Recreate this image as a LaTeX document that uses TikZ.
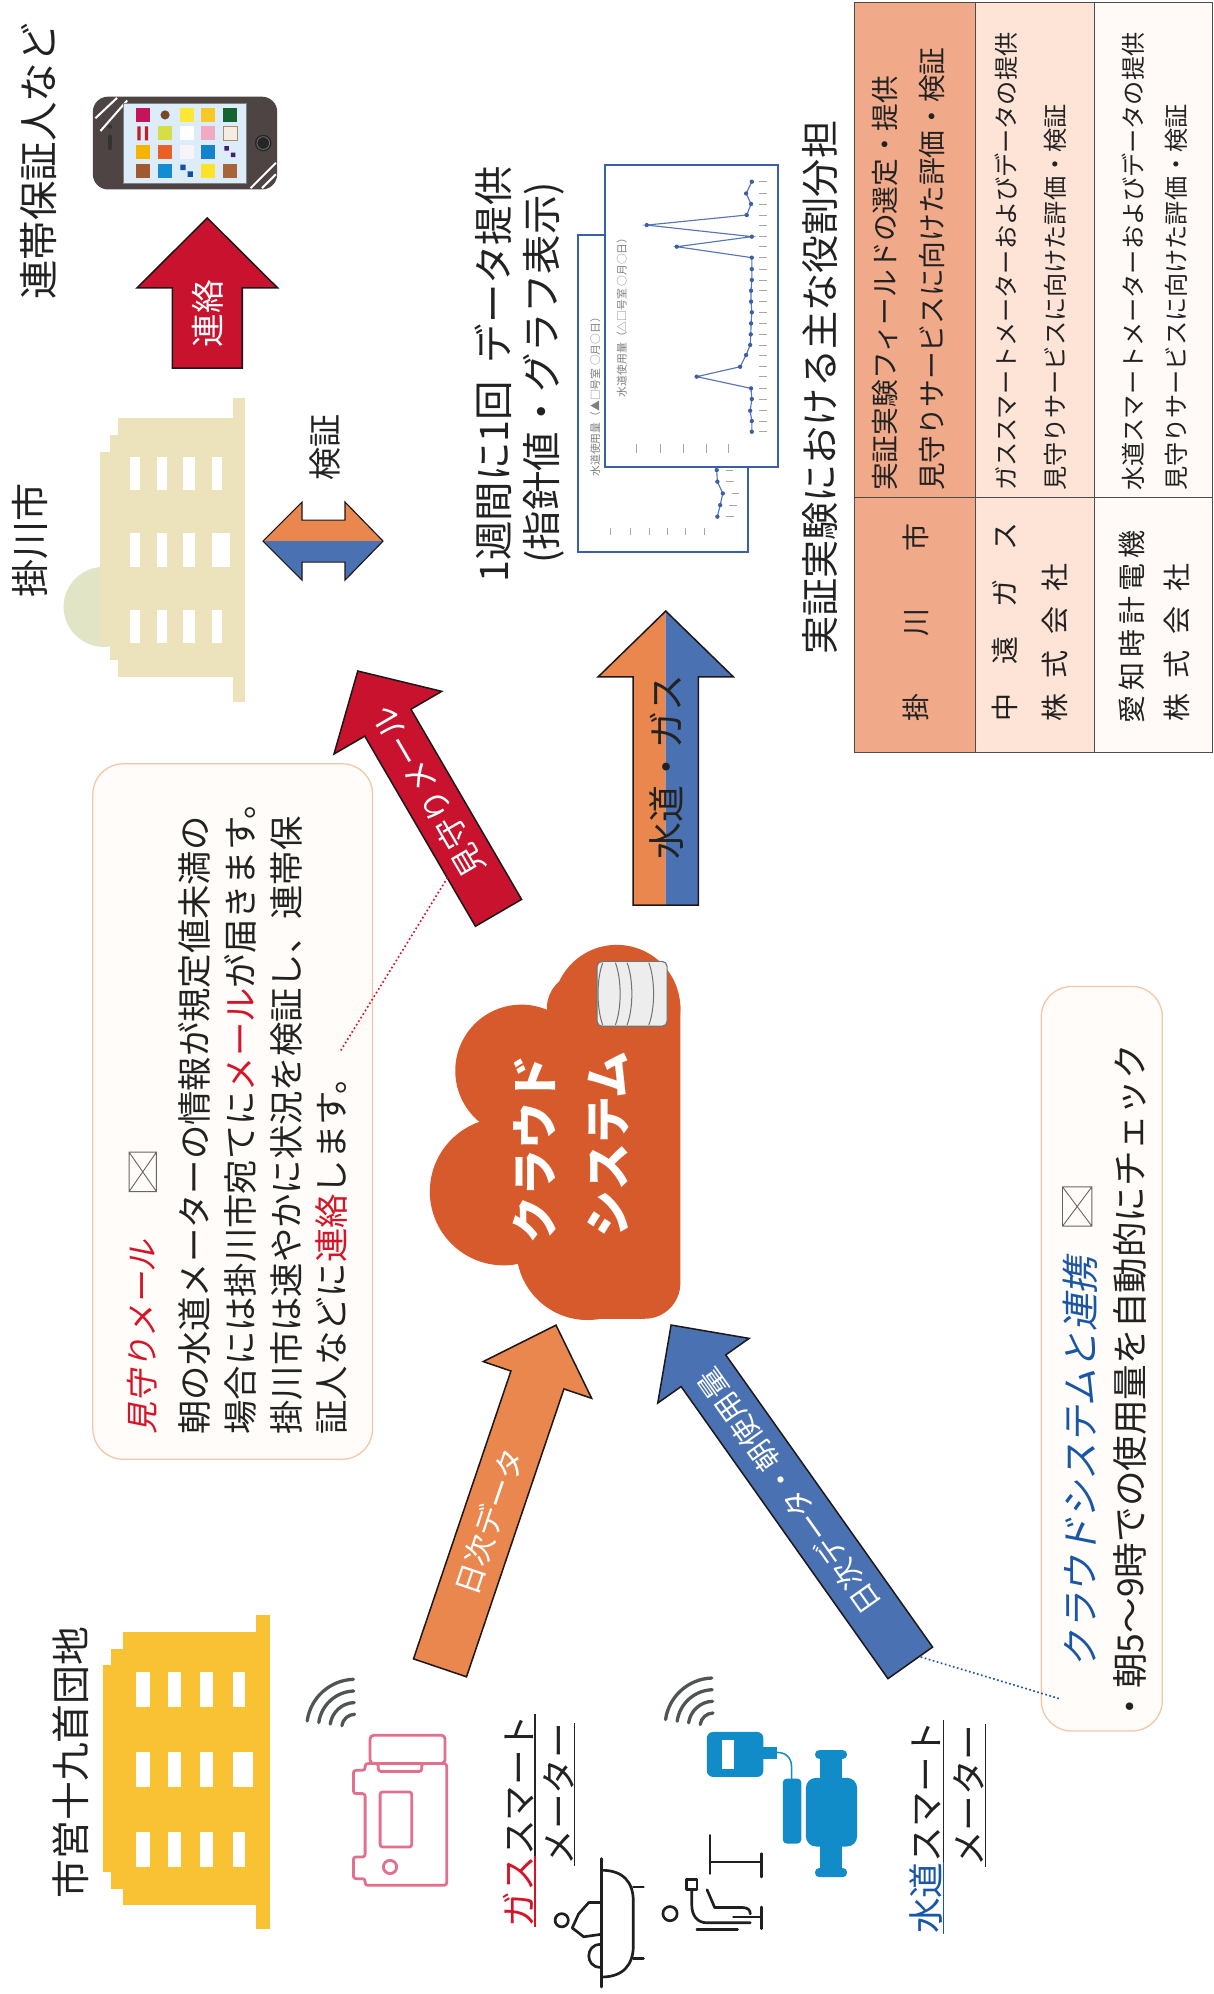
\documentclass[tikz,border=0pt]{standalone}
\usepackage{fontspec}
\setmainfont{Noto Sans CJK JP}
\newfontfamily\jpslant{Noto Sans CJK JP}[FakeSlant=0.2]
\usetikzlibrary{calc}

\definecolor{arrred}{RGB}{200,18,46}
\definecolor{arrorange}{RGB}{233,135,78}
\definecolor{arrblue}{RGB}{74,114,178}
\definecolor{cloudred}{RGB}{214,90,44}
\definecolor{beige}{RGB}{236,226,188}
\definecolor{domebeige}{RGB}{226,228,198}
\definecolor{bldyellow}{RGB}{249,193,52}
\definecolor{tabA}{RGB}{240,170,138}
\definecolor{tabB}{RGB}{253,228,214}
\definecolor{tabC}{RGB}{255,250,247}
\definecolor{boxline}{RGB}{242,198,168}
\definecolor{boxfill}{RGB}{255,252,249}
\definecolor{chartblue}{RGB}{58,94,168}
\definecolor{gaspink}{RGB}{226,112,140}
\definecolor{waterblue}{RGB}{18,140,200}
\definecolor{txtblue}{RGB}{26,86,166}
\definecolor{txtred}{RGB}{214,20,40}
\definecolor{wifigray}{RGB}{80,84,84}
\definecolor{phonebody}{RGB}{78,68,68}
\definecolor{screenblue}{RGB}{220,236,248}
\definecolor{inkblack}{RGB}{34,34,34}
\definecolor{appA}{RGB}{196,20,90}
\definecolor{appB}{RGB}{120,72,40}
\definecolor{appC}{RGB}{252,232,50}
\definecolor{appD}{RGB}{248,200,40}
\definecolor{appE}{RGB}{20,100,50}
\definecolor{appF}{RGB}{190,30,40}
\definecolor{appG}{RGB}{214,222,70}
\definecolor{appH}{RGB}{240,170,195}
\definecolor{appI}{RGB}{244,238,226}
\definecolor{appJ}{RGB}{170,140,110}
\definecolor{appK}{RGB}{246,180,0}
\definecolor{appL}{RGB}{232,96,40}
\definecolor{appM}{RGB}{246,244,250}
\definecolor{appN}{RGB}{20,130,205}
\definecolor{appO}{RGB}{70,30,110}
\definecolor{appP}{RGB}{160,90,50}
\definecolor{appQ}{RGB}{20,140,210}
\definecolor{appR}{RGB}{20,80,160}
\definecolor{appS}{RGB}{252,226,40}
\definecolor{appT}{RGB}{165,100,60}
\definecolor{arrowink}{RGB}{30,24,24}

\tikzset{
  fs/.style={font=\fontsize{#1}{#1}\selectfont},
  vt/.style={rotate=90, inner sep=0pt, outer sep=0pt, text=inkblack},
  rt/.style={rotate=#1, inner sep=0pt, outer sep=0pt},
  arrowline/.style={draw=arrowink, line width=1.2pt, line join=miter},
  callout/.style={draw=boxline, fill=boxfill, line width=1pt, rounded corners=24pt},
  tabline/.style={draw=black!70, line width=0.8pt},
  chartbox/.style={draw=chartblue, fill=white, line width=1.6pt},
  pict/.style={draw=black!88, line width=2.1pt, line cap=round, line join=round},
  gasline/.style={draw=gaspink, line width=2.2pt, line join=round},
  wifi/.style={draw=wifigray, line width=2.6pt, line cap=round},
  tick/.style={draw=black!35, line width=0.6pt},
  envelope/.style={draw=black!60, line width=0.7pt},
}

% block arrow: tail x, tail y, angle, length, shaft half width, head half width, head length, style
\newcommand\drawblockarrow[8]{%
  \begin{scope}[shift={(#1,#2)},rotate=#3]
    \path[#8] (0,-#5) -- ({#4-#7},-#5) -- ({#4-#7},-#6) -- (#4,0) --
      ({#4-#7},#6) -- ({#4-#7},#5) -- (0,#5) -- cycle;
  \end{scope}}

\begin{document}
\begin{tikzpicture}[x=1pt,y=-1pt]
\useasboundingbox (0,0) rectangle (954,1568);
\fill[white] (0,0) rectangle (954,1568);

% ---------------- role table ----------------
\fill[tabA] (672,2) rectangle (766.8,592);
\fill[tabB] (766.8,2) rectangle (861,592);
\fill[tabC] (861,2) rectangle (953.5,592);
\draw[tabline] (672,2) rectangle (953.5,592);
\draw[tabline] (766.8,2) -- (766.8,592) (861,2) -- (861,592) (672,391) -- (953.5,391);

\node[vt, fs=30] (tabTitle) at (644.7,305) {実証実験における主な役割分担};

\node[vt, fs=21.8, anchor=west] (roleA1) at (695.8,386) {実証実験フィールドの選定・提供};
\node[vt, fs=21.8, anchor=west] (roleA2) at (732.5,386) {見守りサービスに向けた評価・検証};
\node[vt, fs=19, anchor=west] (roleB1) at (791.5,386) {ガススマートメーターおよびデータの提供};
\node[vt, fs=19, anchor=west] (roleB2) at (829.5,386) {見守りサービスに向けた評価・検証};
\node[vt, fs=19, anchor=west] (roleC1) at (891.1,386) {水道スマートメーターおよびデータの提供};
\node[vt, fs=19, anchor=west] (roleC2) at (925.2,386) {見守りサービスに向けた評価・検証};

\node[vt, fs=22, anchor=west] (orgA) at (720.6,567.3) {掛\hspace{45pt}川\hspace{45pt}市};
\node[vt, fs=22, anchor=west] (orgB1) at (789.9,567.3) {中\hspace{22.8pt}遠\hspace{22.8pt}ガ\hspace{22.8pt}ス};
\node[vt, fs=22, anchor=west] (orgB2) at (829.5,567.3) {株\hspace{12pt}式\hspace{12pt}会\hspace{12pt}社};
\node[vt, fs=22, anchor=west] (orgC1) at (889.8,569) {愛\hspace{4pt}知\hspace{4pt}時\hspace{4pt}計\hspace{4pt}電\hspace{4pt}機};
\node[vt, fs=22, anchor=west] (orgC2) at (925.2,567.3) {株\hspace{12pt}式\hspace{12pt}会\hspace{12pt}社};

% ---------------- weekly graph ----------------
\node[vt, fs=31, anchor=west] (weekA) at (388,458) {1週間に1回\hspace{0.45em}データ提供};
\node[vt, fs=31, anchor=west] (weekB) at (427.5,443) {(指針値・グラフ表示)};

\draw[chartbox] (454.6,184.8) rectangle (588.3,434);
\node[vt, fs=8.5, text=black!50] (chartTitleB) at (468,310) {水道使用量（▲□号室\ ○月○日）};
\foreach \tx in {479.7,495.9,510.3,524.7,539.1,553.5} \draw[tick] (\tx,415) -- (\tx,421);
\draw[chartblue!85, line width=0.9pt] plot coordinates {(563.6,369.6) (564.1,378.8) (568.4,388) (566.3,397.2) (564.1,406.3)};
\foreach \px/\py in {563.6/369.6,564.1/378.8,568.4/388,566.3/397.2,564.1/406.3} {
  \fill[chartblue] (\px,\py) circle (1.7);
  \draw[tick] (\px+7,\py) -- (\px+13,\py);
}

\draw[chartbox] (475.8,129.8) rectangle (611.9,367.3);
\node[vt, fs=8.5, text=black!50] (chartTitleA) at (489,247.5) {水道使用量（△□号室\ ○月○日）};
\foreach \tx in {500.7,518.9,537.4,555.8,572.8} \draw[tick] (\tx,349) -- (\tx,356);
\draw[chartblue!85, line width=0.9pt] plot coordinates {(591.2,142.9) (586.7,152.1) (590.6,160.4) (587.2,169.1) (508.6,177) (591.2,186.1) (532.2,194) (591.2,202.6) (591.2,211.6) (591.2,220.2) (590.6,228.6) (590.6,237.2) (591.2,245.6) (590.6,254.3) (590.4,262.9) (589.9,271.3) (586.7,279.2) (582,288.4) (547.9,296.2) (590.6,305.4) (591.2,313.8) (589.9,323) (591.2,331.1) (591.2,339.5)};
\foreach \px/\py in {591.2/142.9,586.7/152.1,590.6/160.4,587.2/169.1,508.6/177,591.2/186.1,532.2/194,591.2/202.6,591.2/211.6,591.2/220.2,590.6/228.6,590.6/237.2,591.2/245.6,590.6/254.3,590.4/262.9,589.9/271.3,586.7/279.2,582/288.4,547.9/296.2,590.6/305.4,591.2/313.8,589.9/323,591.2/331.1,591.2/339.5}
  \fill[chartblue] (\px,\py) circle (1.7);
\foreach \py in {142.9,152.1,160.4,169.1,177,186.1,194,202.6,211.6,220.2,228.6,237.2,245.6,254.3,262.9,271.3,279.2,288.4,296.2,305.4,313.8,323,331.1,339.5}
  \draw[tick] (597,\py) -- (603,\py);

% ---------------- guarantor phone ----------------
\node[vt, fs=31] (guarantor) at (30,127) {連帯保証人など};
\fill[phonebody, rounded corners=12pt] (73,76) rectangle (218,149);
\draw[white, line width=1.6pt] (75,93) -- (92,77) (79,103) -- (100,79);
\draw[white, line width=1.6pt] (197,148) -- (217,128) (206,148) -- (217,137);
\filldraw[fill=screenblue, draw=black!50, line width=0.6pt] (97,81) rectangle (194,144);
\fill[black!85] (207,112.5) circle (6.5);
\draw[black!55, line width=0.6pt] (207,112.5) circle (5);
\fill[black!80] (86.5,99.6) circle (1.6);
\fill[black!80, rounded corners=1pt] (85,106) rectangle (88,118);
% app tiles
\fill[appA] (107.2,84.9) rectangle (118.2,95.9);
\fill[appB] (129.8,90.4) circle (3.6);
\fill[appC] (141.3,84.9) rectangle (152.3,95.9);
\fill[appD] (158.3,84.9) rectangle (169.3,95.9);
\fill[appE] (175.4,84.9) rectangle (186.4,95.9);
\fill[appF] (108,99.4) rectangle (110.5,110.4) (114,99.4) rectangle (116.5,110.4);
\fill[appG] (124.3,99.4) rectangle (135.3,110.4);
\fill[white] (141.3,99.4) rectangle (152.3,110.4);
\fill[appH] (158.3,99.4) rectangle (169.3,110.4);
\filldraw[fill=appI, draw=appJ, line width=0.5pt] (175.4,99.4) rectangle (186.4,110.4);
\fill[appK] (107.2,113.8) rectangle (118.2,124.8);
\fill[appL] (124.3,113.8) rectangle (135.3,124.8);
\fill[appM] (141.3,113.8) rectangle (152.3,124.8);
\fill[appN] (158.3,113.8) rectangle (169.3,124.8);
\fill[appO] (176.5,115) rectangle (180,118.5) (181.5,120) rectangle (185,123.5);
\fill[appP] (107.2,128.7) rectangle (118.2,139.7);
\fill[appQ] (124.3,128.7) rectangle (135.3,139.7);
\fill[appR] (141.8,129.5) rectangle (146,133.7) (147.5,134.8) rectangle (151.7,139);
\fill[appS] (158.3,128.7) rectangle (169.3,139.7);
\fill[appT] (175.4,128.7) rectangle (186.4,139.7);

% contact arrow
\drawblockarrow{163}{289.4}{90}{118}{27.5}{55.3}{55}{fill=arrred, arrowline}
\node[rt=90, fs=26.5, text=white] (lblContact) at (163,246.6) {連絡};

% ---------------- city hall ----------------
\node[vt, fs=30] (cityLabel) at (23.6,424.7) {掛川市};
\fill[domebeige] (82,477.2) ellipse (32 and 31.5);
\fill[beige] (92.8,328.7) rectangle (183.3,532.4);
\fill[beige] (86.5,342) rectangle (92.8,519);
\fill[beige] (78.6,355.5) rectangle (86.5,505.7);
\fill[beige] (183.3,313) rectangle (192.7,552);
\foreach \ya/\yb in {359.4/385.4,419.2/446,479.7/505.7}
  \foreach \xa/\xb in {102/110,123.5/131.3,144/153.4,166.7/174.6}
    \fill[white] (\xa,\ya) rectangle (\xb,\yb);
\fill[white] (166.7,419.2) rectangle (181,446);

% verification double arrow
\fill[arrorange] (206.8,425.5) -- (237.5,394.8) -- (237.5,409) -- (271.3,409) -- (271.3,394.8) -- (301.2,425.5) -- cycle;
\fill[arrblue] (206.8,425.5) -- (237.5,456.2) -- (237.5,442) -- (271.3,442) -- (271.3,456.2) -- (301.2,425.5) -- cycle;
\draw[arrowline, line width=0.9pt] (206.8,425.5) -- (237.5,394.8) -- (237.5,409) -- (271.3,409) -- (271.3,394.8) -- (301.2,425.5) -- (271.3,456.2) -- (271.3,442) -- (237.5,442) -- (237.5,456.2) -- cycle;
\node[vt, fs=26] (lblVerify) at (255.6,351.6) {検証};

% ---------------- watch mail callout ----------------
\draw[callout] (73,600.6) rectangle (293,1147.5);
\node[vt, fs=25.5, anchor=west, text=txtred] (mmTitle) at (112,1128) {\jpslant 見守りメール};
\draw[envelope] (101.5,906) rectangle (123,937) (101.5,906) -- (123,937) (101.5,937) -- (123,906);
\node[vt, fs=27, anchor=west] (mmLine1) at (153,1128) {朝の水道メーターの情報が規定値未満の};
\node[vt, fs=27, anchor=west] (mmLine2) at (189,1128) {場合には掛川市宛てに\textcolor{txtred}{メール}が届きます。};
\node[vt, fs=27, anchor=west] (mmLine3) at (225,1128) {掛川市は速やかに状況を検証し、連帯保};
\node[vt, fs=27, anchor=west] (mmLine4) at (261,1128) {証人などに\textcolor{txtred}{連絡}します。};

% watch mail arrow
\drawblockarrow{392}{717.8}{120.2}{220}{21}{49}{47}{fill=arrred, arrowline}
\node[rt=120.2, fs=25, text=white] (lblWatch) at (336.8,622.7) {見守りメール};
\coordinate (mmDotA) at (268,826);
\coordinate (mmDotB) at (352,690);
\draw[txtred, dotted, line width=1.3pt] (mmDotA) -- (mmDotB);

% water / gas data arrow
\begin{scope}[shift={(523.5,711.8)},rotate=90]
  \fill[arrorange] (0,0) -- (0,-25.6) -- (179.6,-25.6) -- (179.6,-53.1) -- (231.3,0) -- cycle;
  \fill[arrblue] (0,0) -- (0,25.6) -- (179.6,25.6) -- (179.6,53.1) -- (231.3,0) -- cycle;
\end{scope}
\drawblockarrow{523.5}{711.8}{90}{231.3}{25.6}{53.1}{51.7}{arrowline}
\node[vt, fs=29] (lblWaterGas) at (524,603) {水道・ガス};

% ---------------- cloud system ----------------
\begin{scope}
  \fill[cloudred] (485,793) circle (50);
  \fill[cloudred] (410,842) circle (52);
  \fill[cloudred] (396,937) circle (58);
  \fill[cloudred] (462,982) circle (56);
  \fill[cloudred, rounded corners=28pt] (430,765) rectangle (535,1037);
  \fill[cloudred] (415,835) rectangle (440,990);
\end{scope}
\filldraw[fill=black!7, draw=black!55, line width=0.9pt, rounded corners=4pt] (469.5,756) rectangle (524.6,807);
\draw[black!55, line width=0.8pt] (474,757) .. controls (469,770) and (469,793) .. (474,806);
\foreach \cx in {483.9,493.1,510.2}
  \draw[black!55, line width=0.8pt] (\cx,757) .. controls (\cx+5,770) and (\cx+5,793) .. (\cx,806);
\node[vt, fs=37, text=white] (cloudA) at (420,904) {\bfseries クラウド};
\node[vt, fs=37, text=white] (cloudB) at (478,900) {\bfseries システム};

% ---------------- daily data arrows ----------------
\drawblockarrow{346}{1311.5}{71.3}{284.5}{22}{45}{45.5}{fill=arrorange, arrowline}
\node[rt=71.3, fs=24, text=white] (lblDaily) at (384.9,1196.6) {日次データ};
\drawblockarrow{715.8}{1307.6}{125.3}{325.5}{21.5}{44}{44}{fill=arrblue, arrowline}
\node[rt=125.3, fs=23, text=white] (lblDailyMorning) at (620.4,1173) {日次データ・朝使用量};

% ---------------- cloud link callout ----------------
\draw[callout] (818.8,775.7) rectangle (914,1361.2);
\node[vt, fs=29.5, anchor=west, text=txtblue] (cdTitle) at (849.4,1312) {\jpslant クラウドシステムと連携};
\draw[envelope] (835.5,933.3) rectangle (858.6,964.2) (835.5,933.3) -- (858.6,964.2) (835.5,964.2) -- (858.6,933.3);
\node[vt, fs=28, anchor=west] (cdLine) at (888.7,1356) {・朝5～9時での使用量を自動的にチェック};
\coordinate (cdDotA) at (724,1303);
\coordinate (cdDotB) at (834,1336);
\draw[txtblue, dotted, line width=1.3pt] (cdDotA) -- (cdDotB);

% ---------------- housing complex ----------------
\node[vt, fs=30.5] (complexLabel) at (55.5,1386) {市営十九首団地};
\fill[bldyellow] (96.7,1283.3) rectangle (201.6,1498.2);
\fill[bldyellow] (87.6,1296.4) rectangle (96.7,1485.1);
\fill[bldyellow] (81,1309.5) rectangle (87.6,1472);
\fill[bldyellow] (201.6,1270) rectangle (212.1,1516.6);
\foreach \ya/\yb in {1314.7/1342.3,1377.7/1405.2,1440.6/1468.1}
  \foreach \xa/\xb in {107.2/117.7,132.1/142.6,157.5/167.5,183.3/192.4}
    \fill[white] (\xa,\ya) rectangle (\xb,\yb);
\fill[white] (183.3,1377.7) rectangle (199,1405.2);

% ---------------- gas smart meter ----------------
\foreach \r in {10.5,19.7,28.8,38}
  \draw[wifi] (279.2,1358.5) ++(-92:\r) arc[start angle=-92, end angle=-172, radius=\r];
\draw[gasline, rounded corners=3pt] (291,1364.5) rectangle (350,1386.8);
\draw[gasline, rounded corners=2pt] (287.1,1386.8) -- (297.5,1386.8) -- (297.5,1393) -- (331.6,1393) -- (331.6,1386.8) -- (351.3,1386.8) -- (351.3,1482.5) -- (287.1,1482.5) -- (287.1,1477.3) -- (277.9,1477.3) -- (277.9,1460.2) -- (287.1,1460.2) -- (287.1,1410.4) -- (277.9,1410.4) -- (277.9,1392.1) -- (287.1,1392.1) -- cycle;
\draw[gasline, rounded corners=2pt] (298.9,1409.1) rectangle (323.8,1452.4);
\draw[gasline] (306.7,1468.1) circle (5.2);

\node[vt, fs=28, anchor=west] (gasLabelA) at (407.7,1515.3) {\textcolor{txtred}{ガス}スマート};
\node[vt, fs=28, anchor=west] (gasLabelB) at (439.1,1467) {メーター};
\draw[txtred, line width=1pt] (420.8,1515.3) -- (420.8,1459.3);
\draw[black!85, line width=1pt] (420.8,1459.3) -- (420.8,1347.5);
\draw[black!85, line width=1pt] (452,1467) -- (452,1355);

% bath pictogram: rim, bowl, feet and bather
\draw[pict] (473.2,1461.5) -- (473.2,1562.5);
\draw[pict] (473.2,1470.7) .. controls (490,1470.7) and (498,1480) .. (498,1495) -- (498,1530) .. controls (498,1545) and (490,1554.6) .. (473.2,1554.6);
\draw[pict] (498,1483.8) -- (506,1483.8) (498,1540.2) -- (506,1540.2);
\draw[pict] (441.7,1510) circle (5.2);
\draw[pict] (450,1516) -- (455,1505) -- (463,1496) -- (473,1496);
\draw[pict] (450,1516) -- (459,1523) -- (473,1521);
\draw[pict] (472,1529) .. controls (460,1529) and (460,1547) .. (472,1547);

% washbasin pictogram
\draw[pict] (526.9,1504.8) circle (5.6);
\draw[pict] (558.4,1443.2) -- (558.4,1473.3);
\draw[pict] (558.4,1464.2) -- (599,1464.2) (599,1457.6) -- (599,1476);
\draw[pict] (576.7,1507.4) -- (599,1507.4) (599,1499.6) -- (599,1516.6);
\draw[pict] (540,1478) -- (548,1478) -- (548,1486) -- (540,1486) -- cycle;
\draw[pict] (544,1486) -- (544,1498) .. controls (544,1506) and (548,1512) .. (556,1512) -- (590,1512);
\draw[pict] (556,1486) -- (562,1500) -- (584,1500) .. controls (588,1500) and (590,1502) .. (590,1505);
\draw[pict] (548,1517) -- (580,1517);

% ---------------- water smart meter ----------------
\foreach \r in {10.5,19.7,28.8,38}
  \draw[wifi] (561,1357.5) ++(-92:\r) arc[start angle=-92, end angle=-172, radius=\r];
\fill[waterblue, rounded corners=5pt] (555.8,1361.9) rectangle (600.3,1397.3);
\fill[white] (567.6,1368.4) rectangle (576.8,1390.7);
\fill[waterblue] (600.3,1373.7) rectangle (610.8,1383);
\draw[waterblue, line width=1.2pt] (610.8,1378) .. controls (618,1378) and (622.5,1382) .. (622.5,1390) -- (622.5,1399);
\fill[waterblue, rounded corners=3pt] (615.6,1398.6) rectangle (630.1,1449.7);
\fill[waterblue, rounded corners=3pt] (641,1376.3) rectangle (666,1383);
\fill[waterblue, rounded corners=3pt] (641,1469) rectangle (666,1476);
\fill[waterblue] (644.7,1380) rectangle (662.3,1472);
\fill[waterblue, rounded corners=8pt] (633.7,1398) rectangle (674,1452);

\node[vt, fs=28, anchor=west] (waterLabelA) at (728.3,1520.5) {\textcolor{txtblue}{水道}スマート};
\node[vt, fs=28, anchor=west] (waterLabelB) at (762,1468) {メーター};
\draw[txtblue, line width=1pt] (742,1520.5) -- (742,1464.5);
\draw[black!85, line width=1pt] (742,1464.5) -- (742,1352.5);
\draw[black!85, line width=1pt] (775,1468) -- (775,1356);

\end{tikzpicture}
\end{document}
